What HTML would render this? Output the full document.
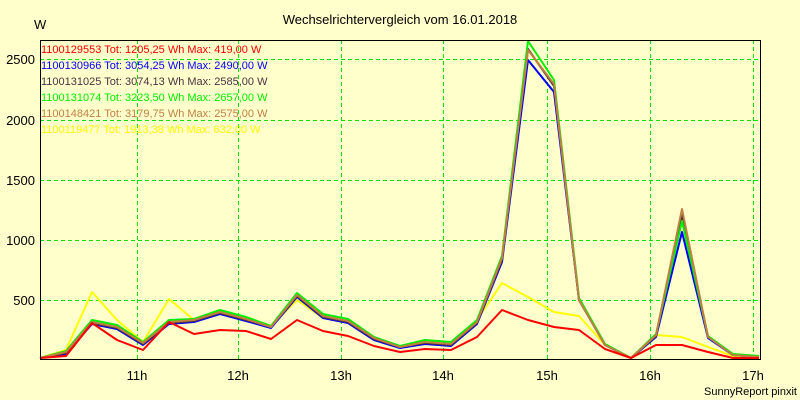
<!DOCTYPE html>
<html><head><meta charset="utf-8"><style>
body{margin:0;background:#ffffcc;}
svg{display:block;font-family:"Liberation Sans",sans-serif;}
</style></head><body>
<svg width="800" height="400" viewBox="0 0 800 400">
<rect width="800" height="400" fill="#ffffcc"/>
<text x="400" y="24" font-size="13" text-anchor="middle">Wechselrichtervergleich vom 16.01.2018</text>
<text x="34" y="29" font-size="13">W</text>
<g stroke="#00e000" stroke-dasharray="4,3" stroke-width="1" shape-rendering="crispEdges">
<line x1="40" x2="760" y1="59.5" y2="59.5"/><line x1="40" x2="760" y1="120.5" y2="120.5"/><line x1="40" x2="760" y1="180.5" y2="180.5"/><line x1="40" x2="760" y1="240.5" y2="240.5"/><line x1="40" x2="760" y1="300.5" y2="300.5"/>
<line x1="137.5" x2="137.5" y1="40" y2="359"/><line x1="238.5" x2="238.5" y1="40" y2="359"/><line x1="341.5" x2="341.5" y1="40" y2="359"/><line x1="443.5" x2="443.5" y1="40" y2="359"/><line x1="547.5" x2="547.5" y1="40" y2="359"/><line x1="650.5" x2="650.5" y1="40" y2="359"/><line x1="753.5" x2="753.5" y1="40" y2="359"/>
</g>
<g font-size="13" text-anchor="end">
<text x="35" y="64">2500</text><text x="35" y="125">2000</text><text x="35" y="185">1500</text><text x="35" y="245">1000</text><text x="35" y="305">500</text>
</g>
<g font-size="13" text-anchor="middle">
<text x="137" y="380">11h</text><text x="238" y="380">12h</text><text x="341" y="380">13h</text><text x="443" y="380">14h</text><text x="547" y="380">15h</text><text x="650" y="380">16h</text><text x="753" y="380">17h</text>
</g>
<text x="797" y="395" font-size="11" text-anchor="end">SunnyReport pinxit</text>
<g fill="none" stroke-width="2" stroke-linejoin="round">
<polyline stroke="#ffff00" points="40,358 66,350 92,292 117,320 143,342 169,299 194,320 220,311 246,317 271,326 297,300 323,318 348,322 374,340 400,348 425,341 451,345 477,320 502,283 528,297 554,312 579,316 605,345 631,358 656,335 682,337 708,347 733,356 759,358"/>
<polyline stroke="#0000ff" points="40,358 66,354 92,324 117,329 143,345 169,324 194,322 220,314 246,321 271,328 297,297 323,318 348,323 374,340 400,348 425,344 451,346 477,324 502,262 528,60 554,92 579,300 605,345 631,358 656,337 682,232 708,338 733,355 759,357"/>
<polyline stroke="#4b3040" points="40,358 66,353 92,323 117,328 143,344 169,323 194,321 220,313 246,320 271,327 297,296 323,317 348,322 374,339 400,347 425,343 451,345 477,323 502,260 528,49 554,86 579,300 605,345 631,358 656,336 682,215 708,337 733,355 759,357"/>
<polyline stroke="#00ee00" points="40,358 66,351 92,320 117,325 143,342 169,320 194,319 220,310 246,317 271,326 297,293 323,314 348,319 374,337 400,346 425,340 451,342 477,320 502,256 528,41 554,80 579,298 605,344 631,358 656,334 682,221 708,336 733,354 759,356"/>
<polyline stroke="#c08040" points="40,358 66,352 92,322 117,327 143,343 169,322 194,320 220,312 246,319 271,327 297,295 323,316 348,321 374,338 400,347 425,342 451,344 477,322 502,258 528,50 554,84 579,300 605,345 631,358 656,335 682,209 708,337 733,355 759,357"/>
<polyline stroke="#ff0000" points="40,358 66,356 92,323 117,340 143,350 169,322 194,334 220,330 246,331 271,339 297,320 323,331 348,336 374,346 400,352 425,349 451,350 477,337 502,310 528,320 554,327 579,330 605,349 631,358 656,345 682,345 708,352 733,358 759,358"/>
</g>
<rect x="40.5" y="40.5" width="720" height="319" fill="none" stroke="#000" stroke-width="1" shape-rendering="crispEdges"/>
<g font-size="11">
<text x="41" y="53" fill="#ff0000">1100129553 Tot: 1205,25 Wh Max: 419,00 W</text>
<text x="41" y="69" fill="#0000ff">1100130966 Tot: 3054,25 Wh Max: 2490,00 W</text>
<text x="41" y="85" fill="#4b3040">1100131025 Tot: 3074,13 Wh Max: 2585,00 W</text>
<text x="41" y="101" fill="#00ee00">1100131074 Tot: 3223,50 Wh Max: 2657,00 W</text>
<text x="41" y="117" fill="#c08040">1100148421 Tot: 3179,75 Wh Max: 2575,00 W</text>
<text x="41" y="133" fill="#ffff00">1100119477 Tot: 1913,38 Wh Max: 632,00 W</text>
</g>
</svg>
</body></html>
